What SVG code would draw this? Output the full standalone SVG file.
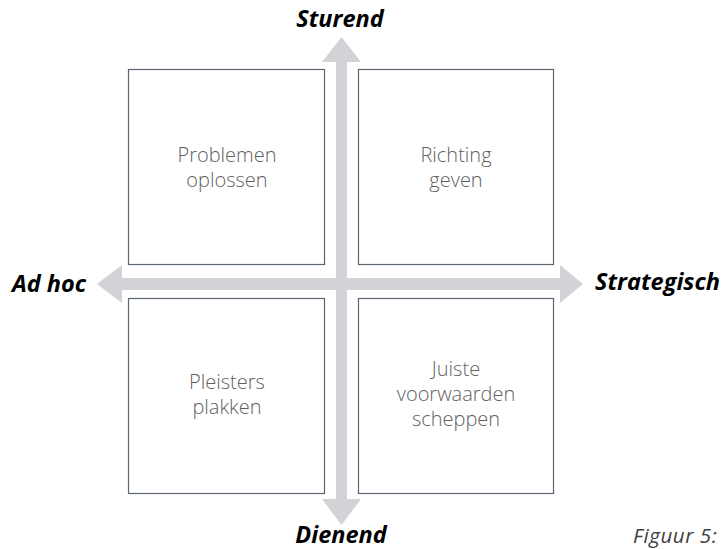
<svg xmlns="http://www.w3.org/2000/svg" width="726" height="549" viewBox="0 0 726 549">
<style>
.box{fill:#fff;stroke:#5b6472;stroke-width:1.2}
.lbl{font-family:"Open Sans","Liberation Sans",sans-serif;font-size:20px;fill:#5f5f5f;text-anchor:middle;font-weight:300}
.axis{font-family:"Open Sans","Liberation Sans",sans-serif;font-size:23.5px;font-weight:bold;font-style:italic;fill:#000}
.arr{fill:#d1d3d7}
.cap{font-family:"Open Sans","Liberation Sans",sans-serif;font-size:20.5px;font-style:italic;fill:#404040;letter-spacing:0.6px}
</style>
<rect width="726" height="549" fill="#fff"/>
<g id="connectors">
<polygon class="arr" points="97,284 122,265 122,278 560,278 560,265 583,284 560,303 560,290 122,290 122,303"/>
<polygon class="arr" points="341.5,37 361,62 347,62 347,499 361,499 341.5,525 322,499 336,499 336,62 322,62"/>
</g>
<g id="n1"><rect class="box" x="128.5" y="69.5" width="196" height="195"/>
<text class="lbl" x="227" y="162">Problemen</text><text class="lbl" x="227" y="187">oplossen</text></g>
<g id="n2"><rect class="box" x="358.5" y="69.5" width="195" height="195"/>
<text class="lbl" x="456" y="162">Richting</text><text class="lbl" x="456" y="187">geven</text></g>
<g id="n3"><rect class="box" x="128.5" y="298.5" width="196" height="195"/>
<text class="lbl" x="227" y="389">Pleisters</text><text class="lbl" x="227" y="414">plakken</text></g>
<g id="n4"><rect class="box" x="358.5" y="298.5" width="195" height="195"/>
<text class="lbl" x="456" y="376">Juiste</text><text class="lbl" x="456" y="401">voorwaarden</text><text class="lbl" x="456" y="426">scheppen</text></g>
<g id="labels">
<text class="axis" x="340" y="27" text-anchor="middle">Sturend</text>
<text class="axis" x="341" y="543" text-anchor="middle">Dienend</text>
<text class="axis" x="12" y="292">Ad hoc</text>
<text class="axis" x="595" y="290">Strategisch</text>
<text class="cap" x="633" y="543">Figuur 5:</text>
</g>
</svg>
